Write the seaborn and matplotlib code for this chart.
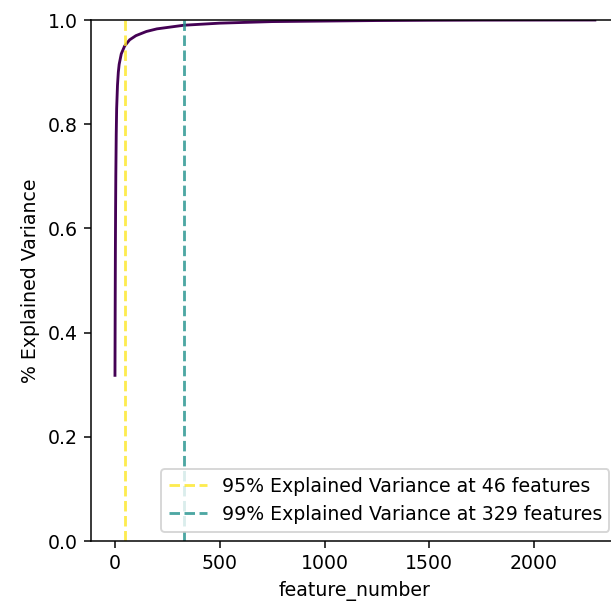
import numpy as np
import pandas as pd
import matplotlib
matplotlib.use('Agg')
import matplotlib.pyplot as plt
import seaborn as sns

# cumulative explained variance
feature_number = [0, 1, 2, 3, 4, 6, 8, 12, 16, 20, 30, 46, 70, 100, 150, 200, 329,
                  500, 750, 1000, 1250, 1500, 1750, 2000, 2290]
explained = [0.318, 0.45, 0.56, 0.64, 0.70, 0.78, 0.83, 0.875, 0.90, 0.915, 0.935, 0.95,
             0.962, 0.970, 0.978, 0.983, 0.990, 0.994, 0.997, 0.998, 0.9990, 0.9995,
             0.9998, 0.9999, 1.0]

cut_features = [46, 329]
cut_labels = ['95% Explained Variance at 46 features',
              '99% Explained Variance at 329 features']

df = pd.DataFrame({'feature_number': feature_number, 'explained': explained})

viridis = plt.get_cmap('viridis')

fig = plt.figure(figsize=(611 / 136, 603 / 136), dpi=136)
ax = fig.add_axes([0.1489, 0.1028, 0.864, 0.864])

sns.lineplot(data=df, x='feature_number', y='explained', color=viridis(0.0), ax=ax)
ax.axvline(cut_features[0], color=viridis(1.0), linestyle='--', alpha=0.8, label=cut_labels[0])
ax.axvline(cut_features[1], color=viridis(0.5), linestyle='--', alpha=0.8, label=cut_labels[1])

ax.set_ylim(0, 1)
ax.set_ylabel('% Explained Variance')
ax.set_xlabel('feature_number')
ax.legend(loc='lower right')

fig.savefig('out.png', dpi=136)
